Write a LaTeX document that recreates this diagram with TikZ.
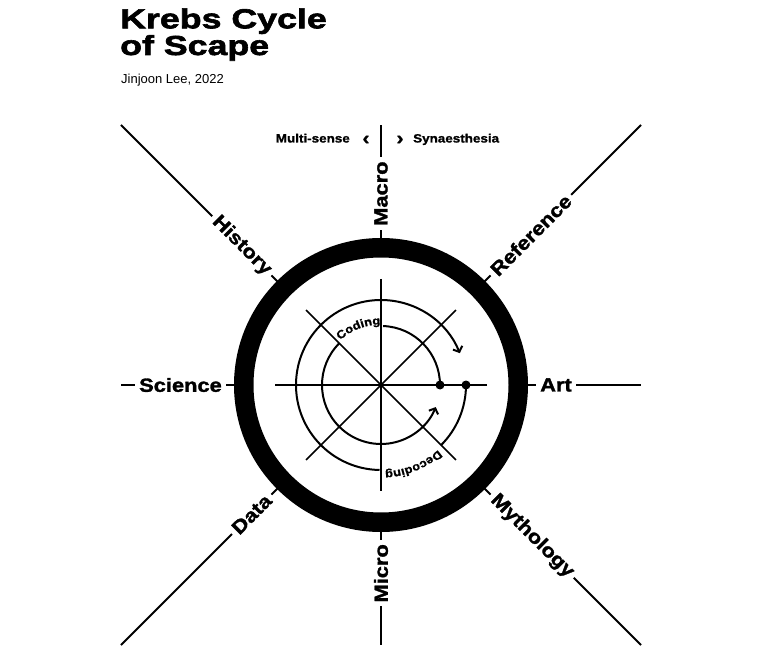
\documentclass[tikz,border=0pt]{standalone}
\usepackage{fontspec}
\setmainfont{Liberation Sans}
\newfontfamily\heavyfont{Liberation Sans}[FakeStretch=1.15,FakeBold=1.6]
\newfontfamily\smallheavyfont{Liberation Sans}[FakeStretch=1.12,FakeBold=1.2]
\newfontfamily\titlefamily{Liberation Sans}[FakeStretch=1.3,FakeBold=2.2]
\usetikzlibrary{arrows.meta,decorations.text}

\newcommand\spokefont{\heavyfont\bfseries\fontsize{19}{19}\selectfont}
\newcommand\arcfont{\smallheavyfont\bfseries\fontsize{11.5}{11.5}\selectfont}
\newcommand\notefont{\smallheavyfont\bfseries\fontsize{12}{12}\selectfont}
\newcommand\bigtitlefont{\titlefamily\bfseries\fontsize{27.5}{27.5}\selectfont}

\begin{document}
\begin{tikzpicture}[
    x=1pt,y=1pt,
    spoke/.style={line width=2pt},
    ring/.style={line width=19.5pt},
    grid/.style={line width=1.7pt},
    cycle/.style={line width=2pt},
    cyclearrow/.style={cycle,-{Straight Barb[length=4.5pt,width=10pt]}},
    spokelabel/.style={font=\spokefont,fill=white,inner xsep=4pt,inner ysep=2pt},
    notelabel/.style={font=\notefont,inner sep=0pt,anchor=base},
    titletext/.style={font=\bigtitlefont,inner sep=0pt,anchor=base west}
]
    \useasboundingbox (-381,-276) rectangle (389,385);

    % Title block.
    \node[titletext] (title) at (-261,356.7) {Krebs Cycle};
    \node[titletext] (title2) at (-261,330) {of Scape};
    \node[font=\fontsize{13}{13}\selectfont,inner sep=0pt,anchor=base west]
        (byline) at (-260,301.7) {Jinjoon Lee, 2022};

    % Eight spokes running out to the edges of a square.
    \foreach \a/\r in {0/260,45/367.7,90/260,135/367.7,180/260,225/367.7,270/260,315/367.7}
        \draw[spoke] (\a:140) -- (\a:\r) coordinate (tip\a);

    % Spoke labels, each starting just outside the ring.
    \node[spokelabel,rotate=90,anchor=west]   (macro)     at (90:155)  {Macro};
    \node[spokelabel,rotate=90,anchor=east]   (micro)     at (270:155) {Micro};
    \node[spokelabel,anchor=east]             (science)   at (180:155) {Science};
    \node[spokelabel,anchor=west]             (art)       at (0:155)   {Art};
    \node[spokelabel,rotate=-45,anchor=east]  (history)   at (135:155) {History};
    \node[spokelabel,rotate=45,anchor=west]   (reference) at (45:155)  {Reference};
    \node[spokelabel,rotate=45,anchor=east]   (data)      at (225:155) {Data};
    \node[spokelabel,rotate=-45,anchor=west]  (mythology) at (315:155) {Mythology};

    % Note beside the top spoke.
    \node[notelabel,anchor=base east] (multisense) at (-31,242.5) {Multi-sense};
    \node[notelabel,font=\notefont\fontsize{19}{19}\selectfont] (less) at (-15,240.5) {\char"2039};
    \node[notelabel,font=\notefont\fontsize{19}{19}\selectfont] (more) at (19,240.5) {\char"203A};
    \node[notelabel,anchor=base west] (synaes) at (32,242.5) {Synaesthesia};

    % The heavy ring.
    \draw[ring] (0,0) circle[radius=137.25];

    % Inner cross and diagonals.
    \foreach \a in {0,45,90,135}
        \draw[grid] (\a:106) -- (\a+180:106);

    % Two cycles starting at the dots.
    \coordinate (innerdot) at (59,0);
    \coordinate (outerdot) at (85,0);
    \draw[cycle] (innerdot) arc[start angle=0,end angle=88,radius=59];
    \draw[cyclearrow] (135:59) arc[start angle=135,end angle=338,radius=59];
    \draw[cycle] (outerdot) arc[start angle=0,end angle=-45,radius=85];
    \draw[cyclearrow] (-91:85) arc[start angle=-91,end angle=-338,radius=85];
    \path[decorate,decoration={text along path,text={|\arcfont|Coding},text align=center}]
        (135:60.5) arc[start angle=135,end angle=88,radius=60.5];
    \path[decorate,decoration={text along path,text={|\arcfont|Decoding},text align=center}]
        (-44:86.5) arc[start angle=-44,end angle=-92,radius=86.5];
    \fill (innerdot) circle[radius=4.5];
    \fill (outerdot) circle[radius=4.5];
\end{tikzpicture}
\end{document}
